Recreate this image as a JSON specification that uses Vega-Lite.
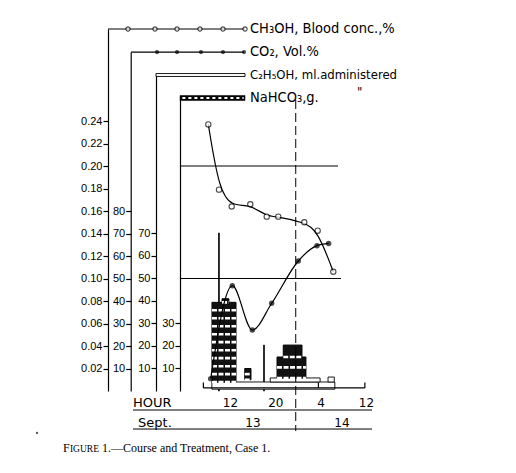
{
"$schema": "https://vega.github.io/schema/vega-lite/v6.json",
"autosize": {"type": "none"},
"width": 272,
"height": 362,
"padding": {"left": 108, "top": 29, "right": 136, "bottom": 82},
"background": "white",
"config": {
  "view": {"stroke": null},
  "axis": {"grid": false, "domainColor": "#000", "tickColor": "#000", "labelColor": "#000", "labelFont": "Liberation Sans", "labelFontSize": 11, "tickSize": 5, "labelPadding": 1, "domainWidth": 1.2, "tickWidth": 1.2, "labelOverlap": false},
  "text": {"font": "DejaVu Sans", "color": "#000"}
},
"datasets": {
  "ch3oh": [
    {"t": 8.17, "v": 0.237}, {"t": 10.06, "v": 0.179}, {"t": 12.3, "v": 0.164}, {"t": 15.58, "v": 0.166},
    {"t": 18.48, "v": 0.155}, {"t": 20.52, "v": 0.155}, {"t": 25.11, "v": 0.15}, {"t": 27.47, "v": 0.1425}, {"t": 30.23, "v": 0.106}
  ],
  "co2": [
    {"t": 8.59, "v": 5.5}, {"t": 12.41, "v": 46.8}, {"t": 15.94, "v": 27.1}, {"t": 19.36, "v": 39.0},
    {"t": 24.05, "v": 57.8}, {"t": 27.35, "v": 64.6}, {"t": 29.41, "v": 65.6}
  ],
  "etoh": [
    {"t0": 9.98, "t1": 10.12, "ml0": 0, "ml1": 70.2},
    {"t0": 17.93, "t1": 18.07, "ml0": 0, "ml1": 20.4},
    {"t0": 8.8, "t1": 30.5, "ml0": 0.8, "ml1": 4.0},
    {"t0": 19.1, "t1": 27.9, "ml0": 4.0, "ml1": 5.8},
    {"t0": 29.3, "t1": 30.4, "ml0": 4.0, "ml1": 6.2}
  ],
  "nahco3": [
    {"t0": 8.82, "t1": 13.06, "g0": 4.0, "g1": 7.5},
    {"t0": 8.82, "t1": 13.06, "g0": 7.5, "g1": 11.0},
    {"t0": 8.82, "t1": 13.06, "g0": 11.0, "g1": 14.6},
    {"t0": 8.82, "t1": 13.06, "g0": 14.6, "g1": 18.1},
    {"t0": 8.82, "t1": 13.06, "g0": 18.1, "g1": 21.7},
    {"t0": 8.82, "t1": 13.06, "g0": 21.7, "g1": 25.2},
    {"t0": 8.82, "t1": 13.06, "g0": 25.2, "g1": 28.8},
    {"t0": 8.82, "t1": 13.06, "g0": 28.8, "g1": 32.3},
    {"t0": 8.82, "t1": 13.06, "g0": 32.3, "g1": 35.9},
    {"t0": 8.82, "t1": 13.06, "g0": 35.9, "g1": 39.4},
    {"t0": 10.6, "t1": 11.8, "g0": 39.4, "g1": 41.0},
    {"t0": 14.6, "t1": 15.7, "g0": 5.0, "g1": 7.5},
    {"t0": 14.6, "t1": 15.7, "g0": 7.5, "g1": 10.0},
    {"t0": 20.3, "t1": 25.4, "g0": 5.8, "g1": 10.5},
    {"t0": 20.3, "t1": 25.4, "g0": 10.5, "g1": 15.1},
    {"t0": 21.4, "t1": 24.7, "g0": 15.1, "g1": 20.4}
  ],
  "keyOpen": [{"t": -6.0}, {"t": -1.24}, {"t": 2.65}, {"t": 6.7}, {"t": 10.76}, {"t": 14.65}],
  "keyFilled": [{"t": -0.88}, {"t": 2.65}, {"t": 6.88}, {"t": 10.76}, {"t": 14.47}]
},
"resolve": {"scale": {"y": "independent"}, "axis": {"y": "independent"}},
"layer": [
  {
    "data": {"name": "etoh"},
    "mark": {"type": "rect", "fill": "white", "stroke": "black", "strokeWidth": 0.9},
    "encoding": {
      "x": {"field": "t0", "type": "quantitative", "title": null, "scale": {"domain": [-9.53, 38.47], "nice": false, "zero": false}},
      "x2": {"field": "t1"},
      "y": {"field": "ml0", "type": "quantitative", "title": null, "scale": {"domain": [0, 140.4], "range": [362, 46], "nice": false, "zero": false}, "axis": {"orient": "left", "offset": -48, "values": [10, 20, 30, 40, 50, 60, 70], "tickCount": 20, "labelOverlap": false}},
      "y2": {"field": "ml1"}
    }
  },
  {
    "data": {"name": "nahco3"},
    "layer": [
      {
        "mark": {"type": "rect", "fill": "#111", "stroke": "black", "strokeWidth": 1},
        "encoding": {
          "x": {"field": "t0", "type": "quantitative", "title": null, "scale": {"domain": [-9.53, 38.47], "nice": false, "zero": false}},
          "x2": {"field": "t1"},
          "y": {"field": "g0", "type": "quantitative", "title": null, "scale": {"domain": [0, 130.2], "range": [362, 69], "nice": false, "zero": false}, "axis": {"orient": "left", "offset": -72, "values": [10, 20, 30], "tickCount": 20, "labelOverlap": false}},
          "y2": {"field": "g1"}
        }
      },
      {
        "mark": {"type": "rule", "color": "white", "strokeWidth": 2.6, "strokeDash": [5, 1.5]},
        "encoding": {
          "x": {"field": "t0", "type": "quantitative", "title": null},
          "x2": {"field": "t1"},
          "y": {"field": "g0", "type": "quantitative", "title": null}
        }
      }
    ]
  },
  {
    "data": {"values": [{}]},
    "layer": [
      {
        "data": {"name": "ch3oh"},
        "mark": {"type": "line", "interpolate": "basis", "color": "black", "strokeWidth": 1.2},
        "encoding": {
          "x": {"field": "t", "type": "quantitative", "title": null, "scale": {"domain": [-9.53, 38.47], "nice": false, "zero": false},
                "axis": {"orient": "bottom", "values": [12, 20, 28, 36], "tickCount": 20, "labelExpr": "'' + (datum.value % 24)", "domain": false, "ticks": false, "labelPadding": 6, "labelFontSize": 12, "labelFont": "DejaVu Sans", "labelOverlap": false}},
          "y": {"field": "v", "type": "quantitative", "title": null, "scale": {"domain": [0, 0.3218], "nice": false, "zero": false},
                "axis": {"orient": "left", "offset": 0, "values": [0.02, 0.04, 0.06, 0.08, 0.1, 0.12, 0.14, 0.16, 0.18, 0.2, 0.22, 0.24], "tickCount": 30, "format": ".2f", "labelOverlap": false}}
        }
      },
      {"mark": {"type": "rule", "color": "black", "strokeWidth": 1}, "encoding": {"x": {"datum": 3.18}, "x2": {"datum": 31.06}, "y": {"datum": 0.2}}},
      {"mark": {"type": "rule", "color": "black", "strokeWidth": 1}, "encoding": {"x": {"datum": 3.18}, "x2": {"datum": 31.59}, "y": {"datum": 0.1}}},
      {"mark": {"type": "rule", "color": "black", "strokeWidth": 1, "strokeDash": [9, 4]}, "encoding": {"x": {"datum": 23.6}, "y": {"datum": 0.2587}, "y2": {"datum": -0.0356}}},
      {"mark": {"type": "rule", "color": "black", "strokeWidth": 1.2}, "encoding": {"x": {"datum": 7.3}, "x2": {"datum": 35.8}, "y": {"datum": 0.0027}}},
      {"mark": {"type": "rule", "color": "black", "strokeWidth": 1.2}, "encoding": {"x": {"datum": 7.3}, "y": {"datum": 0.0027}, "y2": {"datum": 0.0075}}},
      {"mark": {"type": "rule", "color": "black", "strokeWidth": 1.2}, "encoding": {"x": {"datum": 27.6}, "y": {"datum": 0.0027}, "y2": {"datum": 0.0075}}},
      {"mark": {"type": "rule", "color": "black", "strokeWidth": 1.2}, "encoding": {"x": {"datum": 35.8}, "y": {"datum": 0.0027}, "y2": {"datum": 0.0075}}},
      {"mark": {"type": "rule", "color": "black", "strokeWidth": 1}, "encoding": {"x": {"datum": -5.12}, "x2": {"datum": 37.06}, "y": {"datum": -0.0169}}},
      {"mark": {"type": "rule", "color": "black", "strokeWidth": 1}, "encoding": {"x": {"datum": -5.12}, "x2": {"datum": 37.06}, "y": {"datum": -0.0338}}},
      {"mark": {"type": "text", "text": "HOUR", "align": "left", "baseline": "middle", "fontSize": 13}, "encoding": {"x": {"datum": -5.12}, "y": {"datum": -0.0107}}},
      {"mark": {"type": "text", "text": "Sept.", "align": "left", "baseline": "middle", "fontSize": 13}, "encoding": {"x": {"datum": -4.23}, "y": {"datum": -0.0284}}},
      {"mark": {"type": "text", "text": "13", "align": "center", "baseline": "middle", "fontSize": 12}, "encoding": {"x": {"datum": 16.06}, "y": {"datum": -0.0284}}},
      {"mark": {"type": "text", "text": "14", "align": "center", "baseline": "middle", "fontSize": 12}, "encoding": {"x": {"datum": 31.76}, "y": {"datum": -0.0284}}},
      {"mark": {"type": "point", "filled": true, "color": "black", "size": 5}, "encoding": {"x": {"datum": -22.06}, "y": {"datum": -0.0373}}},
      {"mark": {"type": "text", "text": "F", "align": "left", "baseline": "alphabetic", "fontSize": 12, "font": "Liberation Serif"}, "encoding": {"x": {"datum": -17.47}, "y": {"datum": -0.0545}}},
      {"mark": {"type": "text", "text": "IGURE", "align": "left", "baseline": "alphabetic", "fontSize": 9.5, "font": "Liberation Serif"}, "encoding": {"x": {"datum": -16.25}, "y": {"datum": -0.0545}}},
      {"mark": {"type": "text", "text": "1.—Course and Treatment, Case 1.", "align": "left", "baseline": "alphabetic", "fontSize": 12, "font": "Liberation Serif"}, "encoding": {"x": {"datum": -10.6}, "y": {"datum": -0.0545}}},
      {"mark": {"type": "rule", "color": "black", "strokeWidth": 1.2}, "encoding": {"x": {"datum": -9.53}, "x2": {"datum": 14.65}, "y": {"datum": 0.3218}}},
      {"mark": {"type": "rule", "color": "black", "strokeWidth": 1.2}, "encoding": {"x": {"datum": -5.47}, "x2": {"datum": 14.47}, "y": {"datum": 0.3013}}},
      {"mark": {"type": "rect", "fill": "white", "stroke": "black", "strokeWidth": 0.9}, "encoding": {"x": {"datum": -1.06}, "x2": {"datum": 14.65}, "y": {"datum": 0.2796}, "y2": {"datum": 0.2822}}},
      {"mark": {"type": "rect", "fill": "black", "stroke": "black", "strokeWidth": 0.5}, "encoding": {"x": {"datum": 3.18}, "x2": {"datum": 14.65}, "y": {"datum": 0.2582}, "y2": {"datum": 0.2627}}},
      {"mark": {"type": "rule", "color": "white", "strokeWidth": 2, "strokeDash": [3, 3]}, "encoding": {"x": {"datum": 3.6}, "x2": {"datum": 14.4}, "y": {"datum": 0.2604}}},
      {"data": {"name": "keyOpen"}, "mark": {"type": "point", "shape": "circle", "filled": true, "fill": "white", "stroke": "black", "strokeWidth": 1.1, "size": 18}, "encoding": {"x": {"field": "t", "type": "quantitative", "title": null}, "y": {"datum": 0.3218}}},
      {"data": {"name": "keyFilled"}, "mark": {"type": "point", "shape": "circle", "filled": true, "color": "black", "size": 18}, "encoding": {"x": {"field": "t", "type": "quantitative", "title": null}, "y": {"datum": 0.3013}}},
      {"mark": {"type": "text", "text": "CH₃OH, Blood conc.,%", "align": "left", "baseline": "middle", "fontSize": 14.5, "font": "DejaVu Sans Condensed"}, "encoding": {"x": {"datum": 15.53}, "y": {"datum": 0.3218}}},
      {"mark": {"type": "text", "text": "CO₂, Vol.%", "align": "left", "baseline": "middle", "fontSize": 14.5, "font": "DejaVu Sans Condensed"}, "encoding": {"x": {"datum": 15.53}, "y": {"datum": 0.3013}}},
      {"mark": {"type": "text", "text": "C₂H₅OH, ml.administered", "align": "left", "baseline": "middle", "fontSize": 13, "font": "DejaVu Sans Condensed"}, "encoding": {"x": {"datum": 15.53}, "y": {"datum": 0.2809}}},
      {"mark": {"type": "text", "text": "NaHCO₃,g.", "align": "left", "baseline": "middle", "fontSize": 14.5, "font": "DejaVu Sans Condensed"}, "encoding": {"x": {"datum": 15.53}, "y": {"datum": 0.2604}}},
      {"mark": {"type": "text", "text": "\"", "align": "left", "baseline": "middle", "fontSize": 13, "font": "DejaVu Sans Condensed"}, "encoding": {"x": {"datum": 34.41}, "y": {"datum": 0.2658}}},
      {
        "data": {"name": "ch3oh"},
        "mark": {"type": "point", "shape": "circle", "filled": true, "fill": "white", "stroke": "black", "strokeWidth": 1.1, "size": 28},
        "encoding": {"x": {"field": "t", "type": "quantitative", "title": null}, "y": {"field": "v", "type": "quantitative", "title": null}}
      }
    ]
  },
  {
    "data": {"name": "co2"},
    "layer": [
      {
        "mark": {"type": "line", "interpolate": "monotone", "color": "black", "strokeWidth": 1.2},
        "encoding": {
          "x": {"field": "t", "type": "quantitative", "title": null, "scale": {"domain": [-9.53, 38.47], "nice": false, "zero": false}},
          "y": {"field": "v", "type": "quantitative", "title": null, "scale": {"domain": [0, 150.7], "range": [362, 23], "nice": false, "zero": false}, "axis": {"orient": "left", "offset": -22.7, "values": [10, 20, 30, 40, 50, 60, 70, 80], "tickCount": 20, "labelOverlap": false}}
        }
      },
      {
        "mark": {"type": "point", "shape": "circle", "filled": true, "color": "black", "size": 30},
        "encoding": {"x": {"field": "t", "type": "quantitative", "title": null}, "y": {"field": "v", "type": "quantitative", "title": null}}
      }
    ]
  }
]
}
